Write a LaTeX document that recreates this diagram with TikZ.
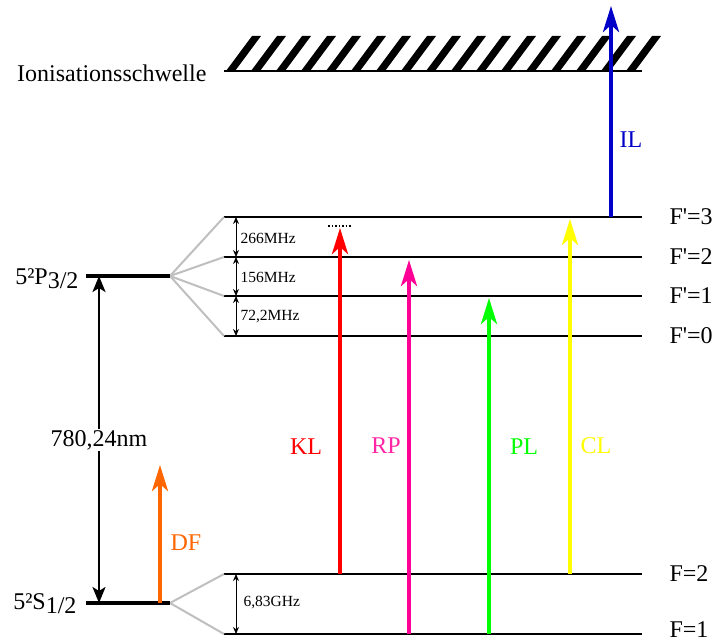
\documentclass[tikz,border=0pt]{standalone}
\usepackage{fontspec}
\setmainfont{Liberation Serif}
\usetikzlibrary{arrows.meta}

\definecolor{klred}{RGB}{255,0,0}
\definecolor{rppink}{RGB}{255,0,150}
\definecolor{plgreen}{RGB}{0,255,0}
\definecolor{clyellow}{RGB}{255,255,0}
\definecolor{ilblue}{RGB}{0,0,200}
\definecolor{dforange}{RGB}{255,102,0}

\begin{document}
\begin{tikzpicture}[
  x=1pt, y=-1pt,
  level/.style={line width=2.5pt},
  state/.style={line width=4.5pt},
  split/.style={gray!50, line width=2pt},
  laser/.style={
    line width=4pt,
    -{Stealth[length=26pt,width=16pt,inset=7pt]}
  },
  gap/.style={
    line width=1pt,
    {Stealth[length=7pt,width=6pt]}-{Stealth[length=7pt,width=6pt]}
  },
  wave/.style={
    line width=2.5pt,
    {Stealth[length=16pt,width=13pt,inset=4pt]}-{Stealth[length=16pt,width=13pt,inset=4pt]}
  },
  big/.style={font=\fontsize{24}{28}\selectfont},
  small/.style={font=\fontsize{15.5}{18}\selectfont}
]
\useasboundingbox (0,0) rectangle (712,644);

% ionisation threshold
\foreach \i in {0,...,16}
  \fill ({226+25*\i},71) -- ++(9,0) -- ++(26,-35) -- ++(-9,0) -- cycle;
\coordinate (ion) at (224,71);
\draw[level] (ion) -- ++(418,0);
\node[big, anchor=east] (lion) at (210,73) {Ionisationsschwelle};

% hyperfine levels
\foreach \name/\y/\ty/\txt in {fp3/217/217/{F\textquotesingle=3}, fp2/257/257/{F\textquotesingle=2},
    fp1/296/296/{F\textquotesingle=1}, fp0/336/336/{F\textquotesingle=0}, f2/574/574/{F=2}, f1/634/630/{F=1}} {
  \coordinate (\name) at (224,\y);
  \draw[level] (\name) -- ++(418,0);
  \node[big, anchor=west] (l\name) at (666,\ty) {\txt};
}

% fine structure levels
\coordinate (P) at (170,276);
\coordinate (S) at (170,603);
\foreach \t in {fp3,fp2,fp1,fp0} \draw[split] (P) -- (\t);
\foreach \t in {f2,f1} \draw[split] (S) -- (\t);
\draw[state] (86,276) -- (P);
\draw[state] (86,603) -- (S);
\node[big, anchor=east] (lP) at (82,279) {5²P\raisebox{-0.35ex}{3/2}};
\node[big, anchor=east] (lS) at (80,604) {5²S\raisebox{-0.35ex}{1/2}};

% D2 line
\coordinate (wP) at (99,276);
\coordinate (wS) at (99,603);
\draw[wave] (wP) -- (wS);
\node[big, fill=white, inner sep=1pt] (lnm) at (99,440) {780,24nm};

% splittings
\draw[gap] (236,217) -- (236,257);
\draw[gap] (236,257) -- (236,296);
\draw[gap] (236,296) -- (236,336);
\draw[gap] (236,574) -- (236,634);
\node[small, anchor=west] (s266) at (237,238) {266MHz};
\node[small, anchor=west] (s156) at (237,277) {156MHz};
\node[small, anchor=west] (s72) at (237,317) {72,2MHz};
\node[small, anchor=west] (s683) at (240,603) {6,83GHz};

% lasers
\coordinate (df0) at (160,603);  \coordinate (df1) at (160,465);
\coordinate (kl0) at (340,574);  \coordinate (kl1) at (340,228);
\coordinate (rp0) at (409,634);  \coordinate (rp1) at (409,260);
\coordinate (pl0) at (489,634);  \coordinate (pl1) at (489,298);
\coordinate (cl0) at (570,574);  \coordinate (cl1) at (570,219);
\coordinate (il0) at (611,217);  \coordinate (il1) at (611,6);
\draw[laser, dforange] (df0) -- (df1);
\draw[laser, klred] (kl0) -- (kl1);
\draw[laser, rppink] (rp0) -- (rp1);
\draw[laser, plgreen] (pl0) -- (pl1);
\draw[laser, clyellow] (cl0) -- (cl1);
\draw[laser, ilblue] (il0) -- (il1);
\draw[dotted, line width=1.5pt] (328,226) -- (351,226);

\node[big, text=dforange] (ldf) at (186,543) {DF};
\node[big, text=klred] (lkl) at (306,447) {KL};
\node[big, text=rppink!85] (lrp) at (386,446) {RP};
\node[big, text=plgreen] (lpl) at (524,447) {PL};
\node[big, text=clyellow] (lcl) at (596,446) {CL};
\node[big, text=ilblue] (lil) at (631,140) {IL};
\end{tikzpicture}
\end{document}
